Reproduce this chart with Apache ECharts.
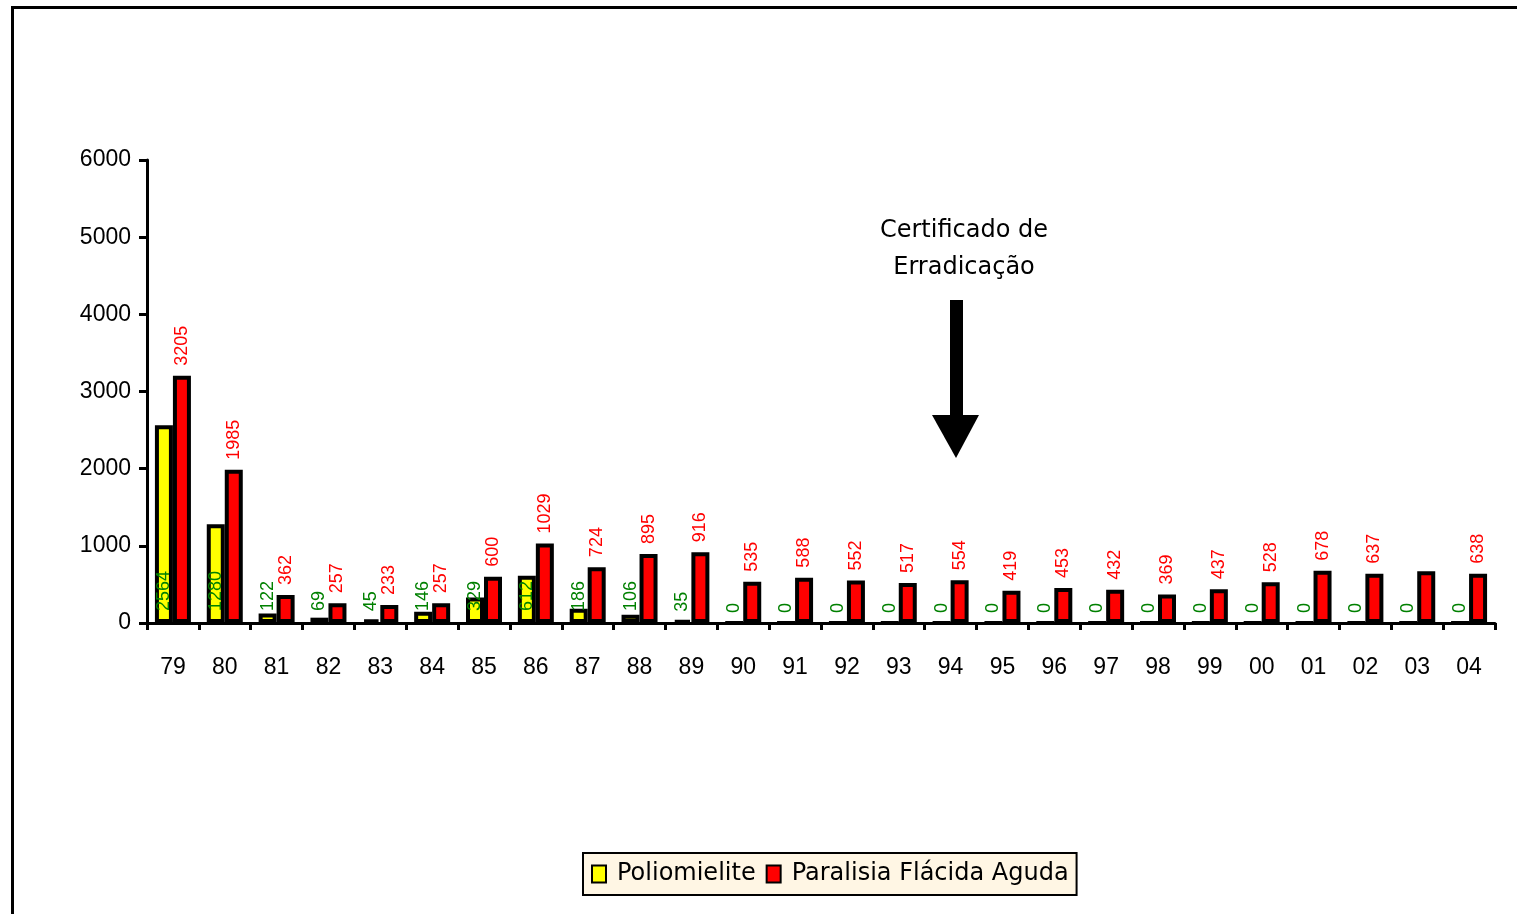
<!DOCTYPE html>
<html>
<head>
<meta charset="utf-8">
<script src="https://cdn.jsdelivr.net/npm/echarts@6/dist/echarts.min.js"></script>
<style>
  html, body { margin: 0; padding: 0; background: #fff; }
  #chart { width: 1517px; height: 914px; }
</style>
</head>
<body>
<div id="chart"></div>
<script>
const years = ["79","80","81","82","83","84","85","86","87","88","89","90","91","92","93","94","95","96","97","98","99","00","01","02","03","04"];
const polio = [2564, 1280, 122, 69, 45, 146, 329, 612, 186, 106, 35, 0, 0, 0, 0, 0, 0, 0, 0, 0, 0, 0, 0, 0, 0, 0];
const pfa = [3205, 1985, 362, 257, 233, 257, 600, 1029, 724, 895, 916, 535, 588, 552, 517, 554, 419, 453, 432, 369, 437, 528, 678, 637, 670, 638];
const yTicks = [0, 1000, 2000, 3000, 4000, 5000, 6000];
const hiddenPfaLabel = ["03"];

const font = "Arial, 'Liberation Sans', sans-serif";
const wideFont = "'DejaVu Sans', Arial, sans-serif";
const chart = echarts.init(document.getElementById("chart"));

const pfaData = pfa.map((v, i) => ({
  value: v,
  label: { show: !hiddenPfaLabel.includes(years[i]) }
}));

chart.setOption({
  animation: false,
  backgroundColor: "#ffffff",
  grid: { left: 147, right: 22, top: 160, bottom: 291, containLabel: false },
  legend: {
    left: 583,
    top: 853,
    padding: [9, 8, 9, 8],
    backgroundColor: "#fff6e4",
    borderColor: "#000",
    borderWidth: 2,
    borderRadius: 0,
    itemGap: 10,
    itemWidth: 14,
    itemHeight: 17,
    icon: "rect",
    itemStyle: { borderColor: "#000", borderWidth: 2 },
    textStyle: { fontFamily: wideFont, fontSize: 24, color: "#000", padding: [0, 0, 0, 6] },
    data: ["Poliomielite", "Paralisia Flácida Aguda"]
  },
  xAxis: {
    type: "category",
    data: years,
    axisLine: { lineStyle: { color: "#000", width: 3 } },
    axisTick: { show: true, interval: 0, length: 7, lineStyle: { color: "#000", width: 3 } },
    axisLabel: { interval: 0, margin: 33, fontFamily: font, fontSize: 23, color: "#000" }
  },
  yAxis: {
    type: "value",
    min: 0,
    max: 6000,
    interval: 1000,
    splitLine: { show: false },
    axisLine: { show: true, lineStyle: { color: "#000", width: 3 } },
    axisTick: { show: true, length: 8, lineStyle: { color: "#000", width: 3 } },
    axisLabel: {
      margin: 16, fontFamily: font, fontSize: 23, color: "#000",
      formatter: v => yTicks.includes(v) ? String(v) : ""
    }
  },
  series: [
    {
      name: "Poliomielite",
      type: "bar",
      data: polio,
      barWidth: 18,
      barGap: "0%",
      itemStyle: { color: "#ffff00", borderColor: "#000", borderWidth: 4 },
      label: {
        show: true,
        position: "insideBottom",
        rotate: 90,
        align: "left",
        verticalAlign: "middle",
        distance: 12,
        fontFamily: font,
        fontSize: 18,
        color: "#008000"
      },
      z: 3
    },
    {
      name: "Paralisia Flácida Aguda",
      type: "bar",
      data: pfaData,
      barWidth: 18,
      barGap: "0%",
      itemStyle: { color: "#ff0000", borderColor: "#000", borderWidth: 4 },
      label: {
        show: true,
        position: "top",
        rotate: 90,
        align: "left",
        verticalAlign: "middle",
        distance: 10,
        fontFamily: font,
        fontSize: 18,
        color: "#ff0000"
      },
      z: 2
    }
  ],
  graphic: [
    {
      type: "rect",
      left: 10, top: 5,
      shape: { x: 0, y: 0, width: 1530, height: 930 },
      style: { fill: "none", stroke: "#000", lineWidth: 3 },
      silent: true
    },
    {
      type: "text",
      x: 964, y: 212,
      style: {
        text: "Certificado de\nErradicação",
        fontFamily: wideFont, fontSize: 24, lineHeight: 37,
        fill: "#000", textAlign: "center"
      }
    },
    {
      type: "rect",
      shape: { x: 950, y: 300, width: 13, height: 118 },
      style: { fill: "#000" }
    },
    {
      type: "polygon",
      shape: { points: [[932, 415], [979, 415], [956, 458]] },
      style: { fill: "#000" }
    }
  ]
});
</script>
</body>
</html>
